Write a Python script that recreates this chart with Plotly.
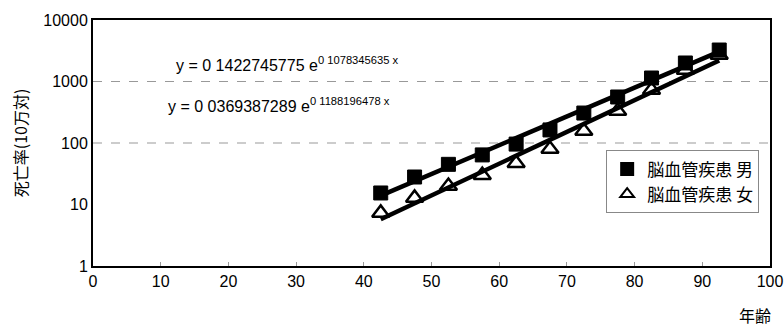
import plotly.graph_objects as go
import numpy as np

ages = [42.5, 47.5, 52.5, 57.5, 62.5, 67.5, 72.5, 77.5, 82.5, 87.5, 92.5]
male = [15.4, 28, 45, 64, 96, 163, 307, 560, 1140, 2000, 3250]
female = [7.3, 12.8, 20, 30, 47, 80, 157, 330, 725, 1540, 2700]
male_fit = (0.1422745775, 0.1078345635)
female_fit = (0.0369387289, 0.1188196478)
x_ticks = [0, 10, 20, 30, 40, 50, 60, 70, 80, 90, 100]
y_ticks = [1, 10, 100, 1000, 10000]
grid_vals = [100, 1000]

font_jp = "Noto Sans CJK JP"
font_num = "Liberation Sans"

fig = go.Figure()

xs = np.linspace(ages[0], ages[-1], 30)
for (a, b) in (male_fit, female_fit):
    fig.add_trace(go.Scatter(x=xs, y=a * np.exp(b * xs), mode="lines",
                             line=dict(color="black", width=4.5),
                             showlegend=False, hoverinfo="skip"))

fig.add_trace(go.Scatter(x=ages, y=male, mode="markers", name="脳血管疾患 男",
                         marker=dict(symbol="square", size=14, color="black",
                                     line=dict(color="black", width=1))))
fig.add_trace(go.Scatter(x=ages, y=female, mode="markers", name="脳血管疾患 女",
                         marker=dict(symbol="triangle-up-open", size=15, color="black",
                                     line=dict(color="black", width=2.5))))

for g in grid_vals:
    fig.add_shape(type="line", xref="paper", x0=0, x1=1, yref="y", y0=g, y1=g,
                  line=dict(color="#999", width=1, dash="dash"), layer="below")

fig.add_annotation(x=0.12, y=0.87, xref="paper", yref="paper", xanchor="left",
                   text="y = 0 1422745775 e<sup>0 1078345635 x</sup>", showarrow=False,
                   font=dict(family=font_num, size=16, color="black"))
fig.add_annotation(x=0.108, y=0.655, xref="paper", yref="paper", xanchor="left",
                   text="y = 0 0369387289 e<sup>0 1188196478 x</sup>", showarrow=False,
                   font=dict(family=font_num, size=16, color="black"))

fig.add_annotation(x=0.978, y=-0.2, xref="paper", yref="paper", xanchor="center", yanchor="middle",
                   text="年齢", showarrow=False, font=dict(family=font_jp, size=16, color="black"))

fig.update_layout(
    width=784, height=326,
    margin=dict(l=93, r=14, t=20, b=60, autoexpand=False),
    plot_bgcolor="white", paper_bgcolor="white",
    font=dict(family=font_num, size=16, color="black"),
    legend=dict(x=0.758, y=0.47, xanchor="left", yanchor="top",
                bgcolor="white", bordercolor="#888", borderwidth=1,
                font=dict(family=font_jp, size=17, color="black"),
                itemsizing="constant", itemwidth=30, tracegroupgap=0),
    xaxis=dict(range=[0, 100], tickvals=x_ticks, showgrid=False, zeroline=False,
               showline=True, linecolor="black", linewidth=2, mirror=True,
               ticks="inside", ticklen=4, tickcolor="#999"),
    yaxis=dict(type="log", range=[0, 4], tickvals=y_ticks, ticktext=[str(v) for v in y_ticks],
               showgrid=False,
               zeroline=False, showline=True, linecolor="black", linewidth=2, mirror=True,
               title=dict(text="死亡率(10万対)", font=dict(family=font_jp, size=16), standoff=12)),
)

fig.write_html("out.html")
